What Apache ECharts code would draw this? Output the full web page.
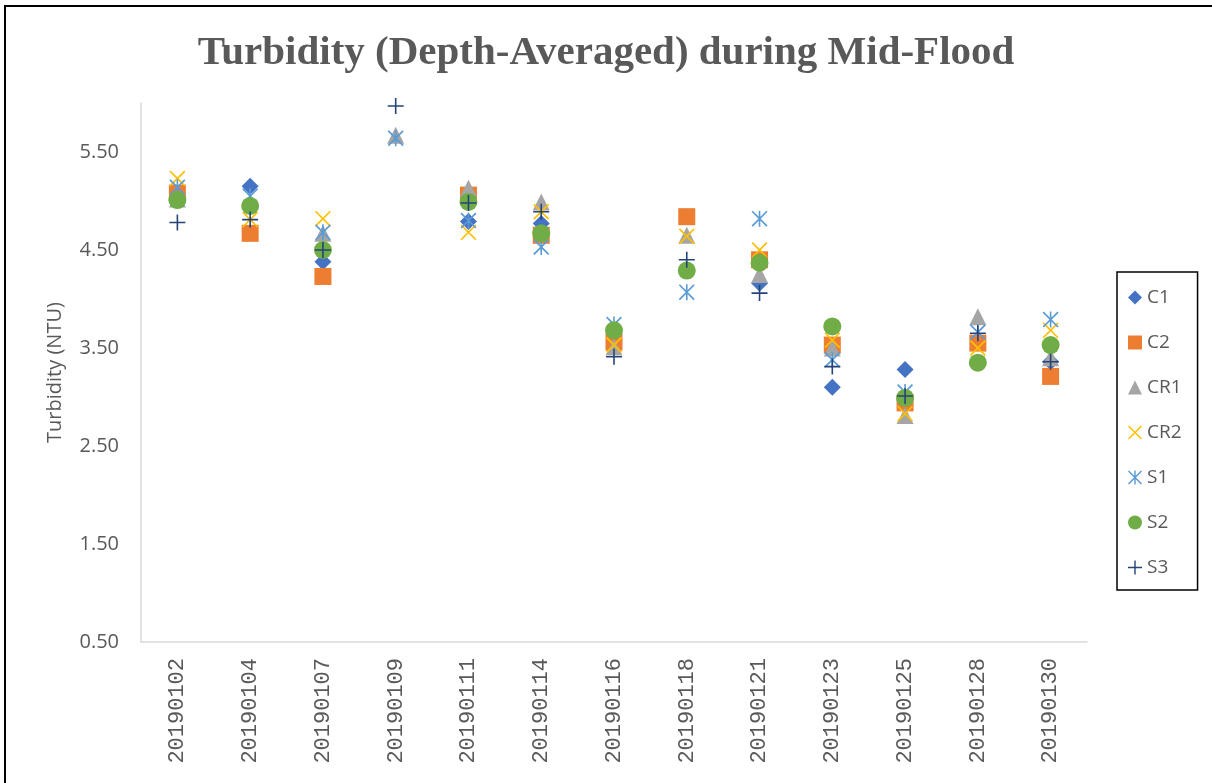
<!DOCTYPE html>
<html>
<head>
<meta charset="utf-8">
<script src="https://cdn.jsdelivr.net/npm/echarts@6/dist/echarts.min.js"></script>
<style>
  html, body { margin: 0; padding: 0; background: #fff; overflow: hidden; }
  #chart { width: 1212px; height: 783px; }
</style>
</head>
<body>
<div id="chart"></div>
<script>
const dates = ['20190102', '20190104', '20190107', '20190109', '20190111', '20190114', '20190116',
  '20190118', '20190121', '20190123', '20190125', '20190128', '20190130']

// values, null where no marker shows
const c1 = [null, 5.15, 4.38, null, 4.79, 4.77, null, null, 4.16, 3.10, 3.28, null, 3.36]
const c2 = [5.08, 4.67, 4.23, null, 5.06, 4.65, 3.56, 4.84, 4.40, 3.53, 2.94, 3.55, 3.21]
const cr1 = [5.02, null, 4.67, 5.67, 5.13, 4.99, 3.51, 4.65, 4.25, 3.50, 2.81, 3.82, 3.40]
const cr2 = [5.23, 4.81, 4.82, null, 4.68, 4.89, 3.53, 4.64, 4.50, 3.58, 2.83, 3.50, 3.68]
const s1 = [5.14, 5.05, 4.68, 5.64, 4.80, 4.53, 3.74, 4.07, 4.82, 3.38, 3.05, 3.66, 3.79]
const s2 = [5.01, 4.95, 4.50, null, 4.99, 4.67, 3.68, 4.29, 4.37, 3.72, 2.99, 3.35, 3.53]
const s3 = [4.78, 4.81, 4.50, 5.97, 4.98, 4.89, 3.41, 4.40, 4.06, 3.31, 3.01, 3.65, 3.36]

const yTicks = [0.5, 1.5, 2.5, 3.5, 4.5, 5.5]

// line markers as filled paths
const xMark = 'path://M0,1.5L1.5,0L20,18.5L18.5,20Z M18.5,0L20,1.5L1.5,20L0,18.5Z'
const starMark = 'path://M0,1.5L1.5,0L20,18.5L18.5,20Z M18.5,0L20,1.5L1.5,20L0,18.5Z M9,0L11,0L11,20L9,20Z'
const plusMark = 'path://M9,0L11,0L11,9L20,9L20,11L11,11L11,20L9,20L9,11L0,11L0,9L9,9Z'

const grey = '#595959'

const mk = (name, data, symbol, size, color) => ({
  name,
  type: 'scatter',
  data,
  symbol,
  symbolSize: size,
  itemStyle: { color, opacity: 1 },
  emphasis: { disabled: true }
})

const chart = echarts.init(document.getElementById('chart'))
chart.setOption({
  animation: false,
  title: {
    text: 'Turbidity (Depth-Averaged) during Mid-Flood',
    left: 'center',
    top: 28,
    textStyle: {
      fontFamily: 'Liberation Serif',
      fontWeight: 'bold',
      fontSize: 41,
      color: grey
    }
  },
  graphic: [{
    type: 'rect',
    shape: { x: 5, y: 6, width: 1400, height: 1000 },
    style: { fill: 'none', stroke: '#000', lineWidth: 2 }
  }],
  legend: {
    orient: 'vertical',
    left: 1117,
    top: 272,
    padding: [16, 16, 13, 11],
    itemWidth: 14,
    itemHeight: 14,
    itemGap: 26,
    borderColor: '#000',
    borderWidth: 1.5,
    textStyle: { fontFamily: 'Open Sans', fontSize: 19, color: grey },
    data: ['C1', 'C2', 'CR1', 'CR2', 'S1', 'S2', 'S3']
  },
  grid: { left: 141, right: 125, top: 103, bottom: 141 },
  xAxis: {
    type: 'category',
    data: dates,
    boundaryGap: true,
    axisLine: { lineStyle: { color: '#d9d9d9', width: 1.5 } },
    axisTick: { show: false },
    axisLabel: {
      interval: 0,
      rotate: 90,
      margin: 16,
      fontFamily: 'Liberation Mono',
      fontSize: 22,
      color: grey
    }
  },
  yAxis: {
    type: 'value',
    min: yTicks[0],
    max: 6,
    interval: 1,
    name: 'Turbidity (NTU)',
    nameLocation: 'middle',
    nameRotate: 90,
    nameGap: 76,
    nameTextStyle: { fontFamily: 'Open Sans', fontSize: 20, color: grey },
    axisLine: { show: true, lineStyle: { color: '#d9d9d9', width: 1.5 } },
    axisTick: { show: false },
    splitLine: { show: false },
    axisLabel: {
      showMaxLabel: false,
      margin: 22,
      fontFamily: 'Open Sans',
      fontSize: 20,
      color: grey,
      formatter: (v) => v.toFixed(2)
    }
  },
  series: [
    mk('C1', c1, 'diamond', 17, '#4472C4'),
    mk('C2', c2, 'rect', 17, '#ED7D31'),
    mk('CR1', cr1, 'triangle', 17, '#A5A5A5'),
    mk('CR2', cr2, xMark, 16, '#FFC000'),
    mk('S1', s1, starMark, 16, '#5B9BD5'),
    mk('S2', s2, 'circle', 18, '#70AD47'),
    mk('S3', s3, plusMark, 16, '#264478')
  ]
})
</script>
</body>
</html>
